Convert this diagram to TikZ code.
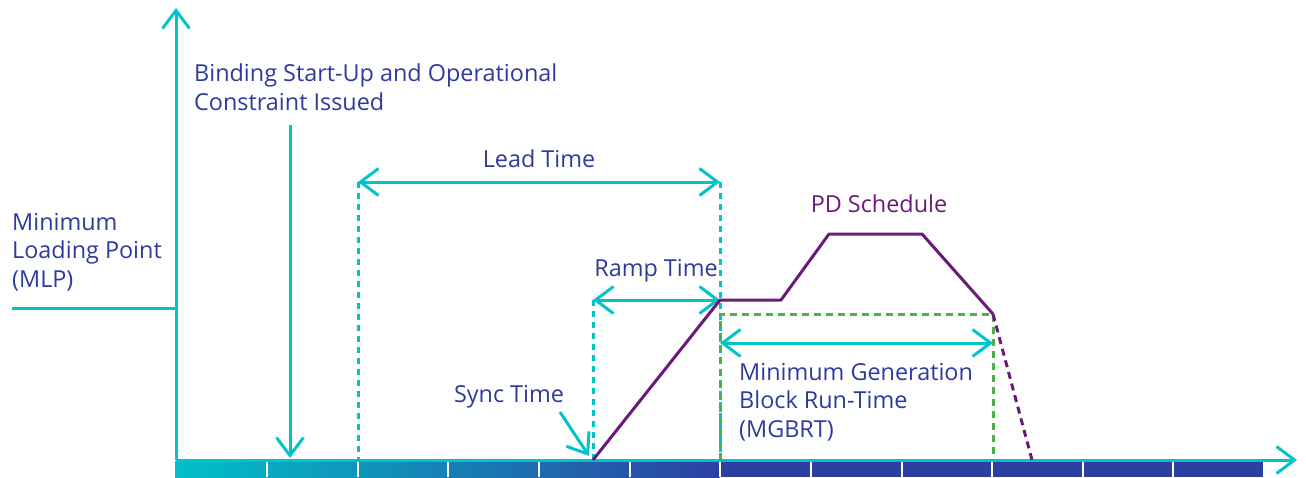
\documentclass[tikz,border=0pt]{standalone}
\usepackage{fontspec}
\setmainfont{Open Sans}
\usetikzlibrary{arrows.meta}
\definecolor{cy}{RGB}{0,196,200}
\definecolor{tx}{RGB}{46,58,158}
\definecolor{pu}{RGB}{106,27,122}
\definecolor{gr}{RGB}{76,178,72}
\definecolor{barL}{RGB}{0,192,200}
\definecolor{barR}{RGB}{44,64,162}
\tikzset{
  barb/.tip={Straight Barb[length=18pt,width=27pt,line width=3pt]},
  cyline/.style={draw=cy,line width=3pt},
  cydash/.style={draw=cy,line width=3pt,dash pattern=on 6pt off 5pt},
  grdash/.style={draw=gr,line width=3pt,dash pattern=on 7pt off 5pt},
  puline/.style={draw=pu,line width=3pt,line join=round},
  pudash/.style={draw=pu,line width=3pt,dash pattern=on 7pt off 5pt},
  lbl/.style={text=tx,font=\fontsize{23.4}{28.5}\selectfont,inner sep=0pt,anchor=base west,align=left},
  divider/.style={draw=white,line width=1.6pt},
}
\begin{document}
\begin{tikzpicture}[x=1pt,y=-1pt]
\useasboundingbox (0,0) rectangle (1306,477);
% bar
\shade[left color=barL,right color=barR] (175,461) rectangle (720,477);
\fill[barR] (719.5,461) rectangle (1263,477);
\foreach \x in {267,358,448,539,630,720,811,902,992,1083,1173}
  \draw[divider] (\x,461) -- (\x,477);
% coordinates
\coordinate (O) at (176,460);
\coordinate (Ytop) at (176,8);
\coordinate (Xend) at (1297,460);
\coordinate (mlpL) at (12,308);
\coordinate (mlpR) at (176,308);
\coordinate (bindT) at (290,125);
\coordinate (bindB) at (290,458);
\coordinate (leadL) at (358,182);
\coordinate (leadR) at (720,182);
\coordinate (leadLb) at (358,460);
\coordinate (leadRb) at (720,460);
\coordinate (rampL) at (593,300);
\coordinate (rampR) at (720,300);
\coordinate (rampLb) at (593,460);
\coordinate (syncA) at (560,412);
\coordinate (syncB) at (589,456);
\coordinate (p0) at (593,460);
\coordinate (p1) at (720,300);
\coordinate (p2) at (781,300);
\coordinate (p3) at (829,234);
\coordinate (p4) at (922,234);
\coordinate (p5) at (993,314);
\coordinate (p6) at (1032,460);
\coordinate (gTL) at (720,314);
\coordinate (gTR) at (993,314);
\coordinate (gBL) at (720,460);
\coordinate (gBR) at (993,460);
\coordinate (mgL) at (720,343);
\coordinate (mgR) at (993,343);
% dashed guides
\draw[cydash] (leadL) -- (leadLb);
\draw[cydash] (leadR) -- (leadRb);
\draw[cydash] (rampL) -- (rampLb);
\draw[grdash] (gBL) -- (gTL) -- (gTR) -- (gBR);
% axes
\draw[cyline,-{barb}] (O) -- (Ytop);
\draw[cyline,-{barb}] (O) -- (Xend);
\draw[cyline] (mlpL) -- (mlpR);
\draw[cyline,-{barb}] (bindT) -- (bindB);
\draw[cyline,{barb}-{barb}] (leadL) -- (leadR);
\draw[cyline,{barb}-{barb}] (rampL) -- (rampR);
\draw[cyline,-{barb}] (syncA) -- (syncB);
\draw[cyline,{barb}-{barb}] (mgL) -- (mgR);
% PD schedule
\draw[puline] (p0) -- (p1) -- (p2) -- (p3) -- (p4) -- (p5);
\draw[pudash] (p5) -- (p6);
% labels (base = baseline of last line)
\node[lbl] (mlp) at (12,287) {Minimum\\Loading Point\\(MLP)};
\node[lbl] (bind) at (194,110) {Binding Start-Up and Operational\\Constraint Issued};
\node[lbl,anchor=base] (lead) at (539,167) {Lead Time};
\node[lbl,anchor=base] (ramp) at (656,276) {Ramp Time};
\node[lbl,anchor=base] (sync) at (509,402) {Sync Time};
\node[lbl] (mgbrt) at (739,437) {Minimum Generation\\Block Run-Time\\(MGBRT)};
\node[lbl,anchor=base,text=pu] (pd) at (879,212) {PD Schedule};
\end{tikzpicture}
\end{document}
